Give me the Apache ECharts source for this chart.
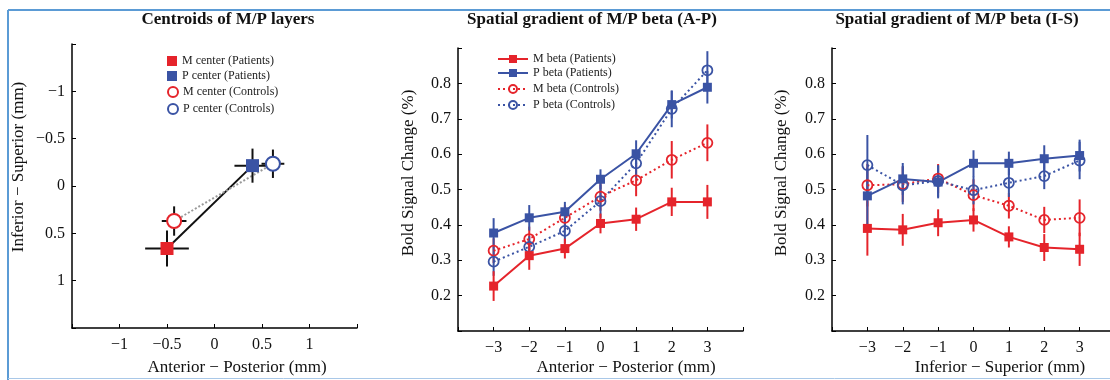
<!DOCTYPE html>
<html>
<head>
<meta charset="utf-8">
<script src="https://cdn.jsdelivr.net/npm/echarts@6/dist/echarts.min.js"></script>
<style>html,body{margin:0;padding:0;background:#fff}#c{width:1110px;height:380px}</style>
</head>
<body>
<div id="c"></div>
<script>
// ---- Panel 1: centroids (x = Anterior-Posterior, y = Inferior-Superior) ----
const centM_pat = [-0.50, 0.66];  const centM_pat_err = [0.23, 0.19];
const centP_pat = [0.40, -0.215]; const centP_pat_err = [0.19, 0.18];
const centM_con = [-0.425, 0.37]; const centM_con_err = [0.13, 0.155];
const centP_con = [0.615, -0.235];const centP_con_err = [0.12, 0.15];
const centTicks = [-1, -0.5, 0, 0.5, 1];

// ---- Panel 2: A-P gradient ----
const posX = [-3, -2, -1, 0, 1, 2, 3];
const apM_pat = [0.227, 0.313, 0.333, 0.404, 0.416, 0.465, 0.465];
const apM_pat_err = [0.042, 0.040, 0.028, 0.028, 0.033, 0.040, 0.048];
const apP_pat = [0.377, 0.420, 0.437, 0.529, 0.601, 0.740, 0.789];
const apP_pat_err = [0.042, 0.036, 0.028, 0.028, 0.038, 0.039, 0.046];
const apM_con = [0.327, 0.360, 0.420, 0.480, 0.526, 0.584, 0.632];
const apM_con_err = [0.035, 0.035, 0.035, 0.040, 0.045, 0.053, 0.052];
const apP_con = [0.296, 0.338, 0.383, 0.467, 0.574, 0.728, 0.837];
const apP_con_err = [0.040, 0.030, 0.035, 0.047, 0.040, 0.052, 0.054];

// ---- Panel 3: I-S gradient ----
const isM_pat = [0.390, 0.386, 0.406, 0.414, 0.366, 0.336, 0.331];
const isM_pat_err = [0.077, 0.045, 0.038, 0.033, 0.030, 0.038, 0.047];
const isP_pat = [0.482, 0.530, 0.521, 0.574, 0.574, 0.587, 0.596];
const isP_pat_err = [0.080, 0.045, 0.046, 0.037, 0.033, 0.038, 0.045];
const isM_con = [0.512, 0.515, 0.531, 0.484, 0.454, 0.414, 0.420];
const isM_con_err = [0.060, 0.050, 0.041, 0.045, 0.036, 0.037, 0.052];
const isP_con = [0.569, 0.512, 0.524, 0.498, 0.519, 0.538, 0.582];
const isP_con_err = [0.085, 0.054, 0.045, 0.040, 0.040, 0.037, 0.053];

const RED = '#e5242b', BLUE = '#3a53a4';
const FONT = '"Liberation Serif", "Times New Roman", serif';

function fmtNum(v) { return String(v).replace('-', '\u2212'); }
function near(a, b) { return Math.abs(a - b) < 1e-6; }

function pairs(xs, ys) { return xs.map((x, i) => [x, ys[i]]); }
function errData(xs, ys, es) { return xs.map((x, i) => [x, ys[i], es[i]]); }

function vErr(name, gi, xs, ys, es, color) {
  return {
    type: 'custom', name: name, xAxisIndex: gi, yAxisIndex: gi, z: 2, clip: false,
    data: errData(xs, ys, es), encode: { x: 0, y: 1 }, silent: true,
    renderItem: function (params, api) {
      const x = api.value(0), y = api.value(1), e = api.value(2);
      const a = api.coord([x, y - e]), b = api.coord([x, y + e]);
      return { type: 'line', shape: { x1: a[0], y1: a[1], x2: b[0], y2: b[1] },
               style: { stroke: color, lineWidth: 2 } };
    }
  };
}
function crossErr(name, pt, err) {
  return {
    type: 'custom', name: name, xAxisIndex: 0, yAxisIndex: 0, z: 2, clip: false, silent: true,
    data: [[pt[0], pt[1], err[0], err[1]]], encode: { x: 0, y: 1 },
    renderItem: function (params, api) {
      const x = api.value(0), y = api.value(1), ex = api.value(2), ey = api.value(3);
      const l = api.coord([x - ex, y]), r = api.coord([x + ex, y]);
      const t = api.coord([x, y - ey]), bt = api.coord([x, y + ey]);
      return { type: 'group', children: [
        { type: 'line', shape: { x1: l[0], y1: l[1], x2: r[0], y2: r[1] }, style: { stroke: '#111', lineWidth: 2 } },
        { type: 'line', shape: { x1: t[0], y1: t[1], x2: bt[0], y2: bt[1] }, style: { stroke: '#111', lineWidth: 2 } }
      ]};
    }
  };
}
function lineSeries(name, gi, xs, ys, color, patient) {
  return {
    type: 'line', name: name, xAxisIndex: gi, yAxisIndex: gi, z: 3,
    data: pairs(xs, ys),
    symbol: patient ? 'rect' : 'circle',
    symbolSize: patient ? 9 : 10,
    itemStyle: patient ? { color: color, opacity: 1 } : { color: 'rgba(255,255,255,0)', borderColor: color, borderWidth: 1.8, opacity: 1 },
    lineStyle: patient ? { color: color, width: 2 } : { color: color, width: 2, type: [2, 3] },
    emphasis: { disabled: true }
  };
}

const axisLine = { show: true, onZero: false, lineStyle: { color: '#000', width: 1.5 } };
const axisTick = { show: true, inside: true, length: 4, lineStyle: { color: '#000', width: 1 } };
const labelStyle = { fontFamily: FONT, fontSize: 16, color: '#111' };

const grids = [
  { left: 72, top: 44, width: 285, height: 284, outerBoundsMode: 'none', containLabel: false },
  { left: 458, top: 48, width: 285, height: 283, outerBoundsMode: 'none', containLabel: false },
  { left: 832, top: 48, width: 283, height: 283, outerBoundsMode: 'none', containLabel: false }
];

const xAxes = [
  { gridIndex: 0, type: 'value', min: -1.5, max: 1.5, interval: 0.5, axisLine, axisTick, splitLine: { show: false },
    axisLabel: Object.assign({ margin: 9, formatter: v => (near(Math.abs(v), 1.5) ? '' : fmtNum(v)) }, labelStyle) },
  { gridIndex: 1, type: 'value', min: -4, max: 4, interval: 1, axisLine, axisTick, splitLine: { show: false },
    axisLabel: Object.assign({ margin: 9, formatter: v => (Math.abs(v) > 3.5 ? '' : fmtNum(v)) }, labelStyle) },
  { gridIndex: 2, type: 'value', min: -4, max: 4, interval: 1, axisLine, axisTick, splitLine: { show: false },
    axisLabel: Object.assign({ margin: 9, formatter: v => (Math.abs(v) > 3.5 ? '' : fmtNum(v)) }, labelStyle) }
];
const yFmt = v => ((near(v, 0.1) || near(v, 0.9)) ? '' : v.toFixed(1));
const yAxes = [
  { gridIndex: 0, type: 'value', inverse: true, min: -1.5, max: 1.5, interval: 0.5, axisLine, axisTick, splitLine: { show: false },
    axisLabel: Object.assign({ margin: 7, formatter: v => (near(Math.abs(v), 1.5) ? '' : fmtNum(v)) }, labelStyle) },
  { gridIndex: 1, type: 'value', min: 0.1, max: 0.9, interval: 0.1, axisLine, axisTick, splitLine: { show: false },
    axisLabel: Object.assign({ margin: 7, formatter: yFmt }, labelStyle) },
  { gridIndex: 2, type: 'value', min: 0.1, max: 0.9, interval: 0.1, axisLine, axisTick, splitLine: { show: false },
    axisLabel: Object.assign({ margin: 7, formatter: yFmt }, labelStyle) }
];

const series = [
  // panel 1
  { type: 'line', name: 'patients link', xAxisIndex: 0, yAxisIndex: 0, z: 1, symbol: 'none', silent: true,
    data: [centM_pat, centP_pat], lineStyle: { color: '#111', width: 2 } },
  { type: 'line', name: 'controls link', xAxisIndex: 0, yAxisIndex: 0, z: 1, symbol: 'none', silent: true,
    data: [centM_con, centP_con], lineStyle: { color: '#999', width: 2, type: [2, 2] } },
  crossErr('err M pat', centM_pat, centM_pat_err),
  crossErr('err P pat', centP_pat, centP_pat_err),
  crossErr('err M con', centM_con, centM_con_err),
  crossErr('err P con', centP_con, centP_con_err),
  { type: 'scatter', name: 'M center (Patients)', xAxisIndex: 0, yAxisIndex: 0, z: 4, symbol: 'rect', symbolSize: 13,
    data: [centM_pat], itemStyle: { color: RED, opacity: 1 } },
  { type: 'scatter', name: 'P center (Patients)', xAxisIndex: 0, yAxisIndex: 0, z: 4, symbol: 'rect', symbolSize: 13,
    data: [centP_pat], itemStyle: { color: BLUE, opacity: 1 } },
  { type: 'scatter', name: 'M center (Controls)', xAxisIndex: 0, yAxisIndex: 0, z: 4, symbol: 'circle', symbolSize: 14,
    data: [centM_con], itemStyle: { color: '#fff', borderColor: RED, borderWidth: 2, opacity: 1 } },
  { type: 'scatter', name: 'P center (Controls)', xAxisIndex: 0, yAxisIndex: 0, z: 4, symbol: 'circle', symbolSize: 14,
    data: [centP_con], itemStyle: { color: '#fff', borderColor: BLUE, borderWidth: 2, opacity: 1 } },
  // panel 2
  vErr('e1', 1, posX, apM_con, apM_con_err, RED),
  vErr('e2', 1, posX, apP_con, apP_con_err, BLUE),
  vErr('e3', 1, posX, apM_pat, apM_pat_err, RED),
  vErr('e4', 1, posX, apP_pat, apP_pat_err, BLUE),
  lineSeries('M beta (Controls)', 1, posX, apM_con, RED, false),
  lineSeries('P beta (Controls)', 1, posX, apP_con, BLUE, false),
  lineSeries('M beta (Patients)', 1, posX, apM_pat, RED, true),
  lineSeries('P beta (Patients)', 1, posX, apP_pat, BLUE, true),
  // panel 3
  vErr('e5', 2, posX, isM_con, isM_con_err, RED),
  vErr('e6', 2, posX, isP_con, isP_con_err, BLUE),
  vErr('e7', 2, posX, isM_pat, isM_pat_err, RED),
  vErr('e8', 2, posX, isP_pat, isP_pat_err, BLUE),
  lineSeries('M beta (Controls), I-S', 2, posX, isM_con, RED, false),
  lineSeries('P beta (Controls), I-S', 2, posX, isP_con, BLUE, false),
  lineSeries('M beta (Patients), I-S', 2, posX, isM_pat, RED, true),
  lineSeries('P beta (Patients), I-S', 2, posX, isP_pat, BLUE, true)
];

const legText = { fontFamily: FONT, fontSize: 12, color: '#222' };
const legends = [
  { left: 167, top: 55, orient: 'vertical', itemWidth: 10, itemHeight: 10, itemGap: 3, padding: 0, selectedMode: false,
    textStyle: legText, data: ['M center (Patients)', 'P center (Patients)'] },
  { left: 167, top: 86, orient: 'vertical', itemWidth: 10, itemHeight: 10, itemGap: 5, padding: 0, selectedMode: false,
    textStyle: legText, data: ['M center (Controls)', 'P center (Controls)'] },
  { left: 497, top: 53, orient: 'vertical', itemWidth: 30, itemHeight: 10, itemGap: 2, padding: 0, selectedMode: false,
    textStyle: legText, data: ['M beta (Patients)', 'P beta (Patients)'] },
  { left: 497, top: 83, orient: 'vertical', itemWidth: 30, itemHeight: 10, itemGap: 4, padding: 0, selectedMode: false,
    textStyle: legText, data: ['M beta (Controls)', 'P beta (Controls)'] }
];

const titleStyle = { fontFamily: FONT, fontSize: 17, fontWeight: 'bold', color: '#111' };
const titles = [
  { text: 'Centroids of M/P layers', left: 228, top: 11, textAlign: 'center', padding: 0, textStyle: titleStyle },
  { text: 'Spatial gradient of M/P beta (A-P)', left: 592, top: 11, textAlign: 'center', padding: 0, textStyle: titleStyle },
  { text: 'Spatial gradient of M/P beta (I-S)', left: 957, top: 11, textAlign: 'center', padding: 0, textStyle: titleStyle }
];

function txt(text, x, y, rot) {
  return { type: 'text', x: x, y: y, rotation: rot || 0, silent: true,
    style: { text: text, font: '17px ' + FONT, fill: '#111', textAlign: 'center', textVerticalAlign: 'middle',
             align: 'center', verticalAlign: 'middle' } };
}
const graphic = [
  { type: 'line', shape: { x1: 8, y1: 10, x2: 1110, y2: 10 }, style: { stroke: '#5b9bd5', lineWidth: 2 }, silent: true },
  { type: 'line', shape: { x1: 8, y1: 10, x2: 8, y2: 380 }, style: { stroke: '#5b9bd5', lineWidth: 2 }, silent: true },
  { type: 'line', shape: { x1: 8, y1: 378.5, x2: 1110, y2: 378.5 }, style: { stroke: '#a9c8e8', lineWidth: 1 }, silent: true },
  txt('Anterior \u2212 Posterior (mm)', 237, 368),
  txt('Anterior \u2212 Posterior (mm)', 626, 368),
  txt('Inferior \u2212 Superior (mm)', 1000, 368),
  txt('Inferior \u2212 Superior (mm)', 18.5, 167, Math.PI / 2),
  txt('Bold Signal Change (%)', 408.5, 173, Math.PI / 2),
  txt('Bold Signal Change (%)', 782, 173, Math.PI / 2)
];

const chart = echarts.init(document.getElementById('c'), null, { renderer: 'canvas' });
chart.setOption({
  animation: false,
  backgroundColor: '#fff',
  title: titles,
  legend: legends,
  grid: grids,
  xAxis: xAxes,
  yAxis: yAxes,
  series: series,
  graphic: graphic
});
</script>
</body>
</html>
